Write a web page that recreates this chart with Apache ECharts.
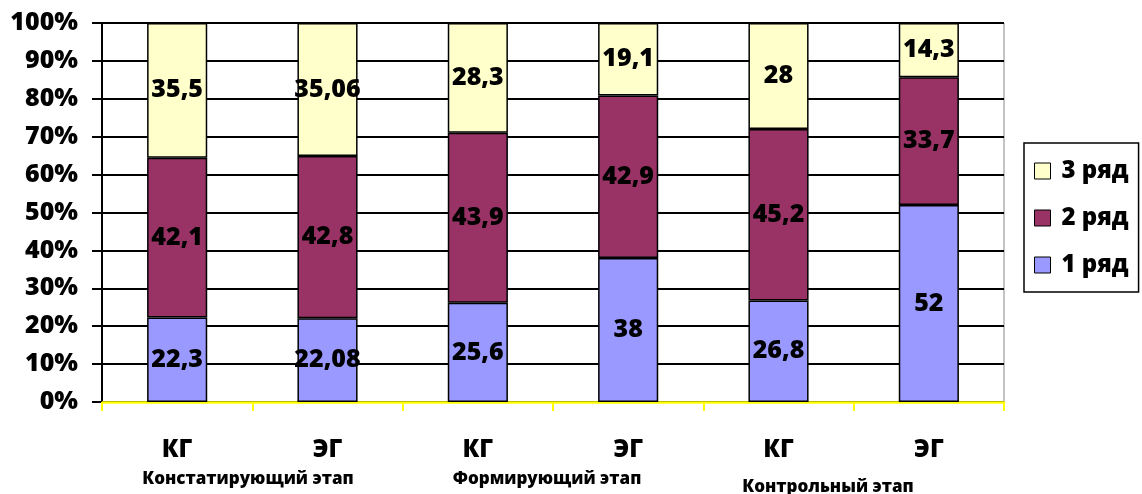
<!DOCTYPE html>
<html><head><meta charset="utf-8">
<script src="https://cdn.jsdelivr.net/npm/echarts@6/dist/echarts.min.js"></script>
<style>html,body{margin:0;padding:0;background:#fff}#c{width:1142px;height:494px}</style>
</head><body><div id="c"></div>
<script>
var categories = ['КГ','ЭГ','КГ','ЭГ','КГ','ЭГ'];
var row1 = [22.3, 22.08, 25.6, 38, 26.8, 52];
var row2 = [42.1, 42.8, 43.9, 42.9, 45.2, 33.7];
var row3 = [35.5, 35.06, 28.3, 19.1, 28, 14.3];
var seriesNames = ['1 ряд','2 ряд','3 ряд'];
var stageLabels = ['Констатирующий этап','Формирующий этап','Контрольный этап'];
var yTicks = [0,10,20,30,40,50,60,70,80,90,100];

var totals = categories.map(function(_, i){ return row1[i] + row2[i] + row3[i]; });
function pct(arr){ return arr.map(function(v, i){ return {value: v / totals[i] * 100, raw: v}; }); }

var FONT = 'Open Sans';
function mk(name, data, color){
  return {
    name: name, type: 'bar', stack: 'all', barWidth: '40%',
    data: pct(data),
    itemStyle: {color: color, borderColor: '#000', borderWidth: 1.5},
    label: {show: true, position: 'inside', color: '#000', fontFamily: FONT, fontWeight: 800, fontSize: 25,
      formatter: function(p){ return String(p.data.raw).replace('.', ','); }},
    emphasis: {disabled: true}
  };
}

var chart = echarts.init(document.getElementById('c'));
chart.setOption({
  animation: false,
  grid: {left: 102, right: 138, top: 23, bottom: 92, show: true, borderColor: '#888', borderWidth: 1},
  legend: {
    data: ['3 ряд','2 ряд','1 ряд'],
    orient: 'vertical', left: 1024, top: 143,
    padding: [16, 10, 15, 10], itemGap: 23, itemWidth: 16, itemHeight: 16,
    borderColor: '#000', borderWidth: 1.5, icon: 'rect',
    itemStyle: {borderColor: '#000', borderWidth: 1},
    formatter: function(n){ return '{b|' + n + '}'; },
    textStyle: {fontFamily: FONT, fontWeight: 800, fontSize: 24, color: '#000',
      rich: {b: {fontFamily: FONT, fontWeight: 800, fontSize: 24, color: '#000', padding: [0, 0, 0, 6]}}}
  },
  xAxis: {
    type: 'category', data: categories,
    axisLine: {lineStyle: {color: '#ffff00', width: 2.5}},
    axisTick: {show: true, interval: 0, length: 9, lineStyle: {color: '#ffff00', width: 2}},
    axisLabel: {interval: 0, margin: 36, color: '#000', fontFamily: FONT, fontWeight: 800, fontSize: 24}
  },
  yAxis: {
    type: 'value', min: 0, max: 100, interval: 10,
    axisLine: {show: true, lineStyle: {color: '#000', width: 2}},
    axisTick: {show: true, length: 10, lineStyle: {color: '#000', width: 2}},
    axisLabel: {margin: 24, color: '#000', fontFamily: FONT, fontWeight: 800, fontSize: 25,
      formatter: function(v){ return yTicks.indexOf(v) >= 0 ? v + '%' : ''; }},
    splitLine: {lineStyle: {color: '#000', width: 2}}
  },
  graphic: stageLabels.map(function(t, i){
    var xs = [248, 547, 828], ys = [479, 479, 487];
    return {type: 'text', x: xs[i], y: ys[i],
      style: {text: t, fill: '#000', font: '800 17px "' + FONT + '"', textAlign: 'center', textVerticalAlign: 'middle'}};
  }),
  series: [mk(seriesNames[0], row1, '#9999ff'), mk(seriesNames[1], row2, '#993366'), mk(seriesNames[2], row3, '#ffffcc')]
});
</script></body></html>
